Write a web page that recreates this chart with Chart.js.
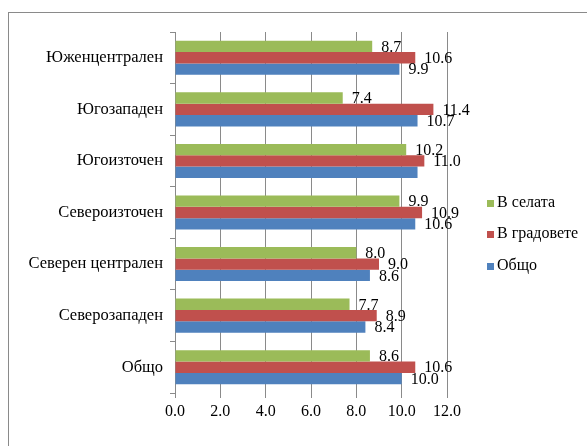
<!DOCTYPE html>
<html>
<head>
<meta charset="utf-8">
<script src="https://cdn.jsdelivr.net/npm/chart.js@4/dist/chart.umd.min.js"></script>
<style>
  html, body { margin: 0; padding: 0; background: #fff; }
  #wrap { position: relative; width: 587px; height: 446px; overflow: hidden; }
  #frame { position: absolute; left: 8px; top: 12px; width: 600px; height: 460px; border: 1px solid #8a8a8a; box-sizing: border-box; }
  canvas { position: absolute; left: 0; top: 0; }
</style>
</head>
<body>
<div id="wrap">
  <div id="frame"></div>
  <canvas id="chart" width="587" height="446"></canvas>
</div>
<script>
const regions = ['Юженцентрален', 'Югозападен', 'Югоизточен', 'Североизточен', 'Северен централен', 'Северозападен', 'Общо'];
const villages = [8.7, 7.4, 10.2, 9.9, 8.0, 7.7, 8.6];
const towns = [10.6, 11.4, 11.0, 10.9, 9.0, 8.9, 10.6];
const total = [9.9, 10.7, 10.7, 10.6, 8.6, 8.4, 10.0];
// the reference hides one overlapping label
const hiddenLabels = [[2, 2]];

const SERIF = "'Liberation Serif', 'Times New Roman', serif";

const valueLabels = {
    id: 'valueLabels',
    afterDatasetsDraw(chart) {
        const ctx = chart.ctx;
        ctx.save();
        ctx.font = '16px ' + SERIF;
        ctx.fillStyle = '#000';
        ctx.textAlign = 'left';
        ctx.textBaseline = 'middle';
        chart.data.datasets.forEach((ds, di) => {
            chart.getDatasetMeta(di).data.forEach((bar, i) => {
                if (hiddenLabels.some(h => h[0] === i && h[1] === di)) return;
                ctx.fillText(ds.data[i].toFixed(1), bar.x + 9, bar.y + 1);
            });
        });
        ctx.restore();
    }
};

const sideLegend = {
    id: 'sideLegend',
    afterDraw(chart) {
        const ctx = chart.ctx;
        ctx.save();
        ctx.font = '16px ' + SERIF;
        ctx.textBaseline = 'middle';
        ctx.textAlign = 'left';
        const ys = [203, 234, 266];
        chart.data.datasets.forEach((ds, i) => {
            ctx.fillStyle = ds.backgroundColor;
            ctx.fillRect(487, ys[i] - 3, 7, 7);
            ctx.fillStyle = '#000';
            ctx.fillText(ds.label, 497, ys[i]);
        });
        ctx.restore();
    }
};

function draw() {
    new Chart(document.getElementById('chart'), {
        type: 'bar',
        data: {
            labels: regions,
            datasets: [
                {label: 'В селата', data: villages, backgroundColor: '#9BBB59'},
                {label: 'В градовете', data: towns, backgroundColor: '#C0504D'},
                {label: 'Общо', data: total, backgroundColor: '#4F81BD'}
            ]
        },
        options: {
            indexAxis: 'y',
            responsive: false,
            animation: false,
            layout: {padding: {top: 32, right: 140, bottom: 23, left: 0}},
            datasets: {bar: {categoryPercentage: 0.66, barPercentage: 1.0}},
            scales: {
                x: {
                    min: 0,
                    max: 12,
                    ticks: {
                        stepSize: 2,
                        color: '#000',
                        font: {family: SERIF, size: 16},
                        padding: 4,
                        callback: v => v.toFixed(1)
                    },
                    grid: {color: '#8a8a8a', tickLength: 5},
                    border: {display: false},
                    afterFit: s => { s.height = 30; }
                },
                y: {
                    ticks: {
                        color: '#000',
                        font: {family: SERIF, size: 16.5},
                        padding: 7
                    },
                    grid: {offset: true, drawOnChartArea: false, color: '#8a8a8a', tickLength: 5},
                    border: {color: '#8a8a8a'},
                    afterFit: s => { s.width = 175; }
                }
            },
            plugins: {
                legend: {display: false},
                tooltip: {enabled: false}
            }
        },
        plugins: [valueLabels, sideLegend]
    });
}

document.fonts.load("16px 'Liberation Serif'").then(draw, draw);
</script>
</body>
</html>
